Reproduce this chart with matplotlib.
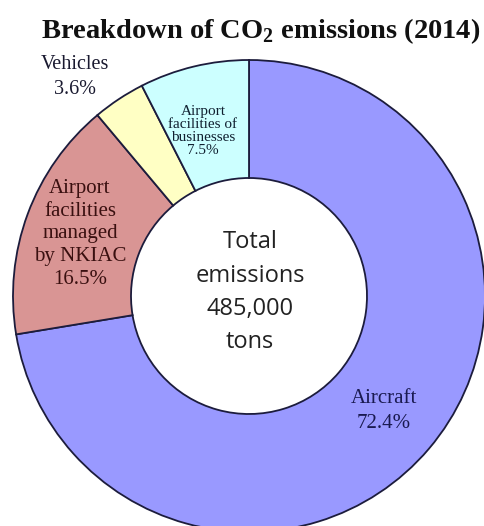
import matplotlib.pyplot as plt

plt.rcParams['mathtext.fontset'] = 'custom'
plt.rcParams['mathtext.bf'] = 'Liberation Serif:bold'
plt.rcParams['mathtext.rm'] = 'Liberation Serif'

sources = ['Aircraft', 'Airport\nfacilities\nmanaged\nby NKIAC', 'Vehicles',
           'Airport\nfacilities of\nbusinesses']
shares = [72.4, 16.5, 3.6, 7.5]
colors = ['#9999FF', '#D99594', '#FFFFC4', '#CCFFFF']
total_tons = 485000

W, H = 485, 526
fig = plt.figure(figsize=(W / 100, H / 100), dpi=100)
ax = fig.add_axes([0, 0, 1, 1])

cx, cy = 249, H - 296
r_out, r_in = 236, 118
ax.pie(shares, colors=colors, startangle=90, counterclock=False,
       center=(cx, cy), radius=r_out, frame=True,
       wedgeprops=dict(width=r_out - r_in, edgecolor='#1c1c3c', linewidth=1.3))
ax.set_xlim(0, W)
ax.set_ylim(0, H)
ax.set_aspect('equal')
ax.axis('off')

def put(x, y, s, **kw):
    fig.text(x / W, 1 - y / H, s, ha='center', va='center', **kw)

serif = 'Liberation Serif'
put(261, 31, r'Breakdown of CO$_{\mathbf{2}}$ emissions (2014)',
    family=serif, fontweight='bold', fontsize=20.5, color='#111111')

labels = [f'{n}\n{v}%' for n, v in zip(sources, shares)]
put(384, 411, labels[0], family=serif, fontsize=15, color='#1a1a50',
    linespacing=1.4)
put(80, 234, labels[1], family=serif, fontsize=15, color='#3a1010',
    linespacing=1.27)
put(75, 77, labels[2], family=serif, fontsize=14.5, color='#1a1a30',
    linespacing=1.45)
put(203, 131, labels[3], family=serif, fontsize=11, color='#102030',
    linespacing=1.0)

put(250, 292, f'Total\nemissions\n{total_tons:,}\ntons', family='Open Sans',
    fontsize=17, color='#222222', linespacing=1.5)

fig.savefig('out.png', dpi=100, facecolor='white')
